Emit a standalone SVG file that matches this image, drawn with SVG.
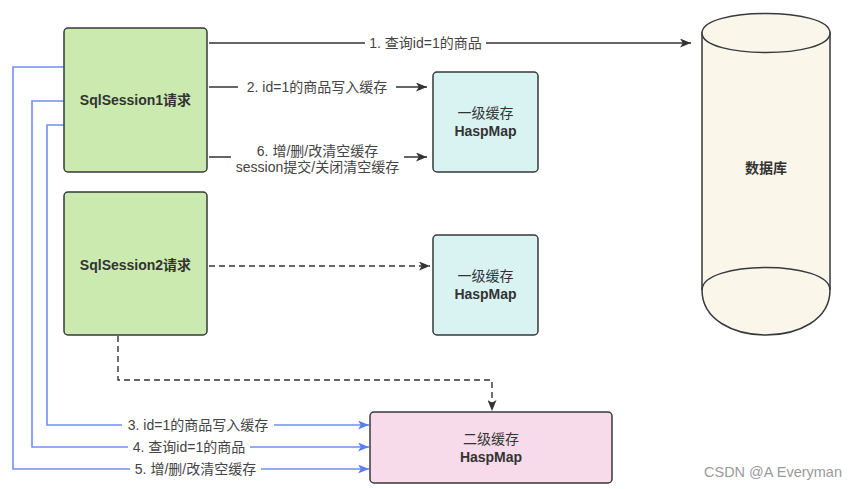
<svg xmlns="http://www.w3.org/2000/svg" width="858" height="489" viewBox="0 0 858 489">
<style>
text{font-family:"Liberation Sans","Noto Sans CJK SC",sans-serif;dominant-baseline:central;text-anchor:middle}
.box{stroke:#36393d;stroke-width:1.5}
.green{fill:#cbeab0}
.cyan{fill:#d9f3f3}
.pink{fill:#f8dbea}
.cream{fill:#faf7ea}
.nl{font-size:14px;font-weight:bold;fill:#333}
.nc{font-size:14px;font-weight:normal;fill:#333}
.ln{fill:none;stroke:#333;stroke-width:1.4}
.dash{stroke-dasharray:6 4}
.bl{fill:none;stroke:#6f8ff5;stroke-width:1.6}
.lb{font-size:14px;fill:#444}
.bg{fill:#fff}
</style>
<defs>
<marker id="ah" markerUnits="userSpaceOnUse" markerWidth="11" markerHeight="9" refX="11" refY="4.5" orient="auto"><path d="M0,0 L11,4.5 L0,9 L2.8,4.5 Z" fill="#333"/></marker>
<marker id="ahb" markerUnits="userSpaceOnUse" markerWidth="11" markerHeight="9" refX="11" refY="4.5" orient="auto"><path d="M0,0 L11,4.5 L0,9 L2.8,4.5 Z" fill="#5b7ff2"/></marker>
</defs>

<g id="connectors">
<path class="ln" d="M209,43 L691,43" marker-end="url(#ah)"/>
<path class="ln" d="M209,87 L427,87" marker-end="url(#ah)"/>
<path class="ln" d="M209,157 L427,157" marker-end="url(#ah)"/>
<path class="ln dash" d="M209,266 L430,266" marker-end="url(#ah)"/>
<path class="ln dash" d="M118,336 L118,380 L492,380 L492,411" marker-end="url(#ah)"/>
<path class="bl" d="M64,125 L47,125 L47,425 L369,425" marker-end="url(#ahb)"/>
<path class="bl" d="M64,101 L32,101 L32,447 L369,447" marker-end="url(#ahb)"/>
<path class="bl" d="M64,67 L13,67 L13,469 L369,469" marker-end="url(#ahb)"/>
<rect class="bg" x="365" y="35" width="121" height="16"/>
<text class="lb" x="425.5" y="43">1. 查询id=1的商品</text>
<rect class="bg" x="238" y="79" width="158" height="16"/>
<text class="lb" x="317" y="87">2. id=1的商品写入缓存</text>
<rect class="bg" x="231" y="142" width="173" height="33"/>
<text class="lb" x="317.5" y="151">6. 增/删/改清空缓存</text>
<text class="lb" x="317.5" y="167">session提交/关闭清空缓存</text>
<rect class="bg" x="122" y="417" width="152" height="16"/>
<text class="lb" x="198" y="425">3. id=1的商品写入缓存</text>
<rect class="bg" x="128" y="439" width="122" height="16"/>
<text class="lb" x="189" y="447">4. 查询id=1的商品</text>
<rect class="bg" x="130" y="461" width="131" height="16"/>
<text class="lb" x="195.5" y="469">5. 增/删/改清空缓存</text>
</g>

<g id="sqlsession1">
<rect class="box green" x="64" y="28" width="143" height="144" rx="4"/>
<text class="nl" x="135.5" y="100">SqlSession1请求</text>
</g>
<g id="sqlsession2">
<rect class="box green" x="64" y="192" width="143" height="143" rx="4"/>
<text class="nl" x="135.5" y="265">SqlSession2请求</text>
</g>
<g id="l1cache1">
<rect class="box cyan" x="433" y="72" width="105" height="100" rx="4"/>
<text class="nc" x="485.5" y="113">一级缓存</text>
<text class="nl" x="485.5" y="131">HaspMap</text>
</g>
<g id="l1cache2">
<rect class="box cyan" x="433" y="235" width="105" height="100" rx="4"/>
<text class="nc" x="485.5" y="276">一级缓存</text>
<text class="nl" x="485.5" y="294">HaspMap</text>
</g>
<g id="database">
<path class="box cream" d="M702,33 L702,290 C702,350 830,350 830,290 L830,33 Z"/>
<path class="box cream" d="M702,33 C702,7 830,7 830,33 C830,59 702,59 702,33 Z"/>
<path fill="none" stroke="#36393d" stroke-width="1.5" d="M702,290 C702,260 830,260 830,290"/>
<text class="nl" x="766" y="168">数据库</text>
</g>
<g id="l2cache">
<rect class="box pink" x="370" y="412" width="242" height="71" rx="4"/>
<text class="nc" x="491" y="439">二级缓存</text>
<text class="nl" x="491" y="457">HaspMap</text>
</g>
<text x="773" y="472" style="font-size:14.5px;fill:#9a9a9a">CSDN @A Everyman</text>
</svg>
